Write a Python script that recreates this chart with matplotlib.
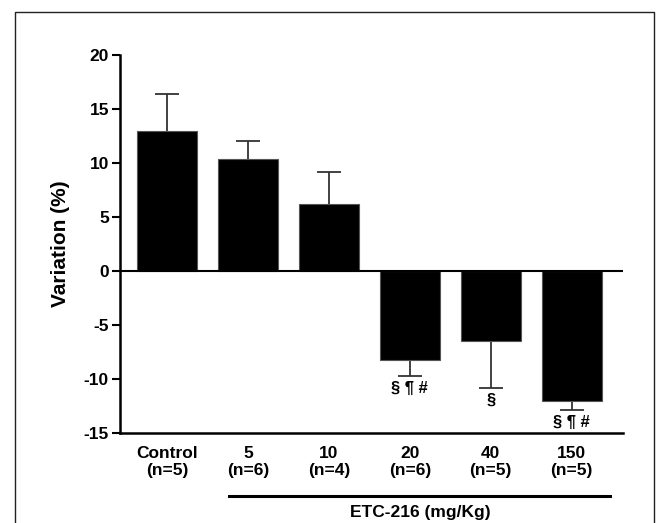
import numpy as np
import matplotlib.pyplot as plt
from matplotlib.lines import Line2D

plt.rcParams['font.family'] = ['Liberation Sans', 'DejaVu Sans']

# data
groups = ["Control\n(n=5)", "5\n(n=6)", "10\n(n=4)", "20\n(n=6)", "40\n(n=5)", "150\n(n=5)"]
means = [13.0, 10.4, 6.2, -8.2, -6.5, -12.0]
errs = [3.4, 1.6, 3.0, 1.5, 4.3, 0.9]
marks = ["", "", "", "§ ¶ #", "§", "§ ¶ #"]

fig = plt.figure(figsize=(6.59, 5.23), dpi=100)
W, H = 659, 523
ax = fig.add_axes([120 / W, 1 - 433 / H, (622.7 - 120) / W, (433 - 55) / H])

x = np.arange(len(groups))
# error bars behind bars, so only the outer half shows
ax.errorbar(x, means, yerr=errs, fmt='none', ecolor='#333333',
            elinewidth=1.3, capsize=8.5, capthick=1.3, zorder=1)
ax.bar(x, means, width=0.74, color='black', edgecolor='#555555', linewidth=0.8, zorder=2)

for xi, m, e, s in zip(x, means, errs, marks):
    if s:
        ax.text(xi, m - e - 0.45, s, ha='center', va='top', fontsize=12,
                fontweight='bold')

ax.axhline(0, color='black', linewidth=1.5, zorder=3)

ax.set_xlim(-0.58, 5.63)
ax.set_ylim(-15, 20)
ax.set_yticks(np.arange(-15, 21, 5))
ax.set_yticklabels([str(v) for v in range(-15, 21, 5)], fontsize=12.5, fontweight='bold')
ax.set_xticks(x)
ax.set_xticklabels(groups, fontsize=12.5, fontweight='bold', linespacing=1.25)
ax.tick_params(axis='x', length=0, pad=9)
ax.tick_params(axis='y', length=6, width=1.5, direction='out', pad=2)

for side in ['top', 'right']:
    ax.spines[side].set_visible(False)
ax.spines['left'].set_linewidth(1.8)
ax.spines['bottom'].set_linewidth(1.8)

ax.set_ylabel("Variation (%)", fontsize=15, fontweight='bold', labelpad=10)

# dose group bracket
fig.add_artist(Line2D([229 / W, 610 / W], [1 - 496 / H, 1 - 496 / H],
                      color='black', linewidth=2.2))
fig.text(420 / W, 1 - 513 / H, "ETC-216 (mg/Kg)", ha='center', va='center',
         fontsize=12.5, fontweight='bold')

# outer frame (open at the bottom)
fx = [15 / W, 15 / W, 654 / W, 654 / W]
fy = [0, 1 - 12 / H, 1 - 12 / H, 0]
fig.add_artist(Line2D(fx, fy, color='#222222', linewidth=1.0))

fig.savefig("out.png", dpi=100)
